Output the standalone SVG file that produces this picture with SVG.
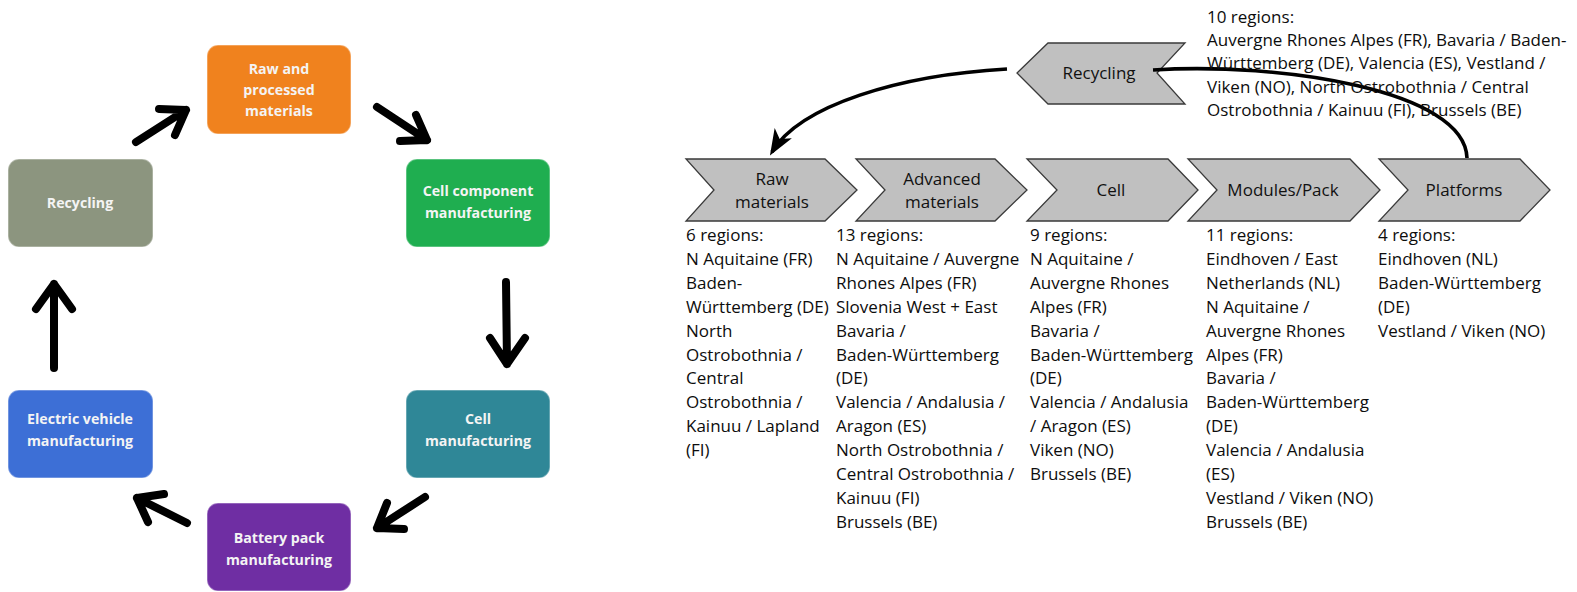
<svg xmlns="http://www.w3.org/2000/svg" width="1577" height="592" viewBox="0 0 1577 592">
<style>
.box{stroke-width:1.5;stroke-opacity:0.35;stroke:#ffffff}
.bl{font-family:"Open Sans","Liberation Sans",sans-serif;font-weight:bold;font-size:14.2px;fill:#f4f4f4;text-anchor:middle}
.chev{fill:#c0c0c0;stroke:#3a3a3a;stroke-width:1.3}
.cl{font-family:"Open Sans","Liberation Sans",sans-serif;font-size:17px;fill:#111;text-anchor:middle}
.rt{font-family:"Open Sans","Liberation Sans",sans-serif;font-size:17px;fill:#0d0d0d}
.ha{fill:none;stroke:#000;stroke-width:8;stroke-linecap:round;stroke-linejoin:round}
.cv{fill:none;stroke:#000;stroke-width:3.6}
</style>
<defs>
<marker id="ah" markerUnits="userSpaceOnUse" markerWidth="28" markerHeight="24" refX="22" refY="12" orient="auto">
<path d="M0,2 L26,12 L0,22 L7,12 Z" fill="#000"/>
</marker>
</defs>
<rect width="1577" height="592" fill="#ffffff"/>

<g id="cycle-raw">
<rect class="box" x="207" y="45" width="144" height="89" rx="11" fill="#f0821e"/>
<text class="bl" x="279" y="74">Raw and</text>
<text class="bl" x="279" y="95">processed</text>
<text class="bl" x="279" y="116">materials</text>
</g>
<g id="cycle-cellcomp">
<rect class="box" x="406" y="159" width="144" height="88" rx="11" fill="#1fae50"/>
<text class="bl" x="478" y="196">Cell component</text>
<text class="bl" x="478" y="218">manufacturing</text>
</g>
<g id="cycle-cellman">
<rect class="box" x="406" y="390" width="144" height="88" rx="11" fill="#2f8797"/>
<text class="bl" x="478" y="424">Cell</text>
<text class="bl" x="478" y="446">manufacturing</text>
</g>
<g id="cycle-battery">
<rect class="box" x="207" y="503" width="144" height="88" rx="11" fill="#6f2ea3"/>
<text class="bl" x="279" y="543">Battery pack</text>
<text class="bl" x="279" y="565">manufacturing</text>
</g>
<g id="cycle-ev">
<rect class="box" x="8" y="390" width="145" height="88" rx="11" fill="#3d6fd6"/>
<text class="bl" x="80" y="424">Electric vehicle</text>
<text class="bl" x="80" y="446">manufacturing</text>
</g>
<g id="cycle-recycling">
<rect class="box" x="8" y="159" width="145" height="88" rx="11" fill="#8c957f"/>
<text class="bl" x="80" y="208">Recycling</text>
</g>

<g id="cycle-connectors">
<path class="ha" d="M136,142 L186,110 M159,109 L186,110 L175,135"/>
<path class="ha" d="M377,107 L427,140 M416,115 L427,140 L400,141"/>
<path class="ha" d="M506,282 L507,364 M490,338 L507,364 L525,338"/>
<path class="ha" d="M425,497 L377,528 M404,529 L377,528 L387,503"/>
<path class="ha" d="M187,523 L137,498 M148,522 L137,498 L164,494"/>
<path class="ha" d="M54,368 L54,284 M36,309 L54,284 L72,309"/>
</g>

<g id="chain-raw">
<polygon class="chev" points="686,159 825,159 857,190 825,221 686,221 714,190"/>
<text class="cl" x="772" y="185">Raw</text>
<text class="cl" x="772" y="208">materials</text>
</g>
<g id="chain-advanced">
<polygon class="chev" points="856,159 995,159 1027,190 995,221 856,221 885,190"/>
<text class="cl" x="942" y="185">Advanced</text>
<text class="cl" x="942" y="208">materials</text>
</g>
<g id="chain-cell">
<polygon class="chev" points="1027,159 1168,159 1198,190 1168,221 1027,221 1057,190"/>
<text class="cl" x="1111" y="196">Cell</text>
</g>
<g id="chain-modules">
<polygon class="chev" points="1188,159 1350,159 1380,190 1350,221 1188,221 1217,190"/>
<text class="cl" x="1283" y="196">Modules/Pack</text>
</g>
<g id="chain-platforms">
<polygon class="chev" points="1379,159 1520,159 1550,190 1520,221 1379,221 1408,190"/>
<text class="cl" x="1464" y="196">Platforms</text>
</g>
<g id="chain-recycling">
<polygon class="chev" points="1048,43 1185,43 1157,73 1185,104 1048,104 1017,73"/>
<text class="cl" x="1099" y="79">Recycling</text>
</g>

<g id="chain-connectors">
<path class="cv" d="M1007,69 C900,75 800,105 772,152" marker-end="url(#ah)"/>
<path class="cv" d="M1153,70 C1280,62 1465,90 1467,158"/>
</g>

<g id="text-recycling">
<text class="rt" x="1207" y="23">10 regions:</text>
<text class="rt" x="1207" y="46">Auvergne Rhones Alpes (FR), Bavaria / Baden-</text>
<text class="rt" x="1207" y="69">Württemberg (DE), Valencia (ES), Vestland /</text>
<text class="rt" x="1207" y="93">Viken (NO), North Ostrobothnia / Central</text>
<text class="rt" x="1207" y="116">Ostrobothnia / Kainuu (FI), Brussels (BE)</text>
</g>
<g id="text-raw">
<text class="rt" x="686" y="241">6 regions:</text>
<text class="rt" x="686" y="264.9">N Aquitaine (FR)</text>
<text class="rt" x="686" y="288.8">Baden-</text>
<text class="rt" x="686" y="312.7">Württemberg (DE)</text>
<text class="rt" x="686" y="336.6">North</text>
<text class="rt" x="686" y="360.5">Ostrobothnia /</text>
<text class="rt" x="686" y="384.4">Central</text>
<text class="rt" x="686" y="408.3">Ostrobothnia /</text>
<text class="rt" x="686" y="432.2">Kainuu / Lapland</text>
<text class="rt" x="686" y="456.1">(FI)</text>
</g>
<g id="text-advanced">
<text class="rt" x="836" y="241">13 regions:</text>
<text class="rt" x="836" y="264.9">N Aquitaine / Auvergne</text>
<text class="rt" x="836" y="288.8">Rhones Alpes (FR)</text>
<text class="rt" x="836" y="312.7">Slovenia West + East</text>
<text class="rt" x="836" y="336.6">Bavaria /</text>
<text class="rt" x="836" y="360.5">Baden-Württemberg</text>
<text class="rt" x="836" y="384.4">(DE)</text>
<text class="rt" x="836" y="408.3">Valencia / Andalusia /</text>
<text class="rt" x="836" y="432.2">Aragon (ES)</text>
<text class="rt" x="836" y="456.1">North Ostrobothnia /</text>
<text class="rt" x="836" y="480">Central Ostrobothnia /</text>
<text class="rt" x="836" y="503.9">Kainuu (FI)</text>
<text class="rt" x="836" y="527.8">Brussels (BE)</text>
</g>
<g id="text-cell">
<text class="rt" x="1030" y="241">9 regions:</text>
<text class="rt" x="1030" y="264.9">N Aquitaine /</text>
<text class="rt" x="1030" y="288.8">Auvergne Rhones</text>
<text class="rt" x="1030" y="312.7">Alpes (FR)</text>
<text class="rt" x="1030" y="336.6">Bavaria /</text>
<text class="rt" x="1030" y="360.5">Baden-Württemberg</text>
<text class="rt" x="1030" y="384.4">(DE)</text>
<text class="rt" x="1030" y="408.3">Valencia / Andalusia</text>
<text class="rt" x="1030" y="432.2">/ Aragon (ES)</text>
<text class="rt" x="1030" y="456.1">Viken (NO)</text>
<text class="rt" x="1030" y="480">Brussels (BE)</text>
</g>
<g id="text-modules">
<text class="rt" x="1206" y="241">11 regions:</text>
<text class="rt" x="1206" y="264.9">Eindhoven / East</text>
<text class="rt" x="1206" y="288.8">Netherlands (NL)</text>
<text class="rt" x="1206" y="312.7">N Aquitaine /</text>
<text class="rt" x="1206" y="336.6">Auvergne Rhones</text>
<text class="rt" x="1206" y="360.5">Alpes (FR)</text>
<text class="rt" x="1206" y="384.4">Bavaria /</text>
<text class="rt" x="1206" y="408.3">Baden-Württemberg</text>
<text class="rt" x="1206" y="432.2">(DE)</text>
<text class="rt" x="1206" y="456.1">Valencia / Andalusia</text>
<text class="rt" x="1206" y="480">(ES)</text>
<text class="rt" x="1206" y="503.9">Vestland / Viken (NO)</text>
<text class="rt" x="1206" y="527.8">Brussels (BE)</text>
</g>
<g id="text-platforms">
<text class="rt" x="1378" y="241">4 regions:</text>
<text class="rt" x="1378" y="264.9">Eindhoven (NL)</text>
<text class="rt" x="1378" y="288.8">Baden-Württemberg</text>
<text class="rt" x="1378" y="312.7">(DE)</text>
<text class="rt" x="1378" y="336.6">Vestland / Viken (NO)</text>
</g>
</svg>
